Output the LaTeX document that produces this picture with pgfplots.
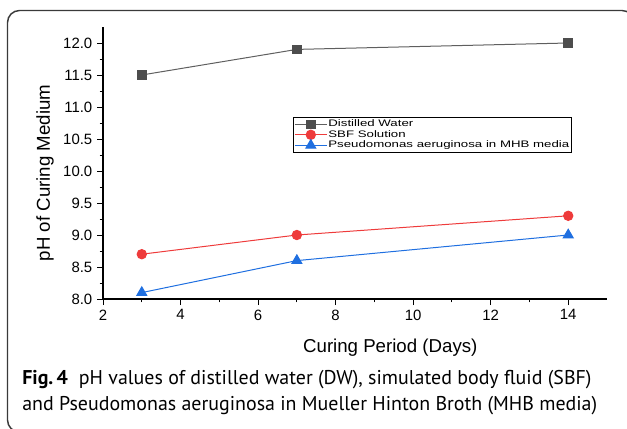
\documentclass[border=0pt]{standalone}
\usepackage{pgfplots}
\pgfplotsset{compat=1.18}
\usepackage{fontspec}
\setmainfont{Liberation Sans}
\newfontfamily\legfont[FakeStretch=1.4]{Liberation Sans}
\newfontfamily\capfont{PT Sans}
\definecolor{dwgray}{HTML}{4D4D4D}
\definecolor{sbfred}{HTML}{EE3B3B}
\definecolor{pablue}{HTML}{1F6FE0}
\definecolor{framegray}{HTML}{3A3A3A}
\begin{document}
\begin{tikzpicture}[x=0.75pt,y=-0.75pt]
\draw[framegray, line width=1.1pt, rounded corners=9pt] (7.5,10.5) rectangle (634,432);
\begin{axis}[
  at={(77.25pt,-224.25pt)}, anchor=south west,
  scale only axis, width=378pt, height=204pt,
  xmin=2, xmax=15, ymin=8, ymax=12.25,
  axis x line*=bottom, axis y line*=left,
  axis line style={line width=0.8pt, black},
  tick align=outside, major tick length=4.5pt, minor tick length=2.5pt,
  tick style={line width=0.7pt, black},
  xtick={2,4,...,14}, ytick={8,8.5,...,12},
  minor x tick num=1, minor y tick num=1,
  /pgf/number format/assume math mode=true,
  tick label style={font=\fontsize{11.2}{13}\selectfont},
  yticklabel style={/pgf/number format/.cd,fixed,fixed zerofill,precision=1},
  xlabel={Curing Period (Days)},
  ylabel={pH of Curing Medium},
  label style={font=\fontsize{14}{16}\selectfont},
  xlabel style={at={(axis description cs:0.57,0)}, anchor=center, yshift=-36.75pt},
  ylabel style={at={(axis description cs:-0.115,0.463)}, anchor=center},
  legend style={at={(axis cs:6.89,10.84)}, anchor=north west, draw=black, line width=0.6pt,
    font=\legfont\fontsize{7.1}{8}\selectfont, inner sep=1pt, row sep=-0.5pt,
    nodes={inner sep=0.8pt}},
  legend cell align=left,
  legend image code/.code={\draw[mark repeat=2,mark phase=2] plot coordinates {(0pt,0pt)(12pt,0pt)(24pt,0pt)};},
]
\addplot[color=dwgray!90, line width=0.75pt, mark=square*, mark size=3.2pt, mark options={fill=dwgray, draw=dwgray, solid}]
  coordinates {(3,11.5) (7,11.9) (14,12.0)};
\addlegendentry{Distilled Water}
\addplot[color=sbfred, line width=0.75pt, mark=*, mark size=3.5pt, mark options={fill=sbfred, draw=sbfred, solid}]
  coordinates {(3,8.7) (7,9.0) (14,9.3)};
\addlegendentry{SBF Solution}
\addplot[color=pablue, line width=0.75pt, mark=triangle*, mark size=4.3pt, mark options={fill=pablue, draw=pablue, solid}]
  coordinates {(3,8.1) (7,8.6) (14,9.0)};
\addlegendentry{Pseudomonas aeruginosa in MHB media}
\end{axis}
\node[anchor=west, inner sep=0pt] at (22,380) {\capfont\fontsize{14.95}{17}\selectfont\textbf{Fig.\,4}\hspace{0.55em}pH values of distilled water (DW), simulated body fluid (SBF)};
\node[anchor=west, inner sep=0pt] at (22,406) {\capfont\fontsize{14.95}{17}\selectfont and Pseudomonas aeruginosa in Mueller Hinton Broth (MHB media)};
\pgfresetboundingbox
\useasboundingbox (0,0) rectangle (627,428);
\end{tikzpicture}
\end{document}
